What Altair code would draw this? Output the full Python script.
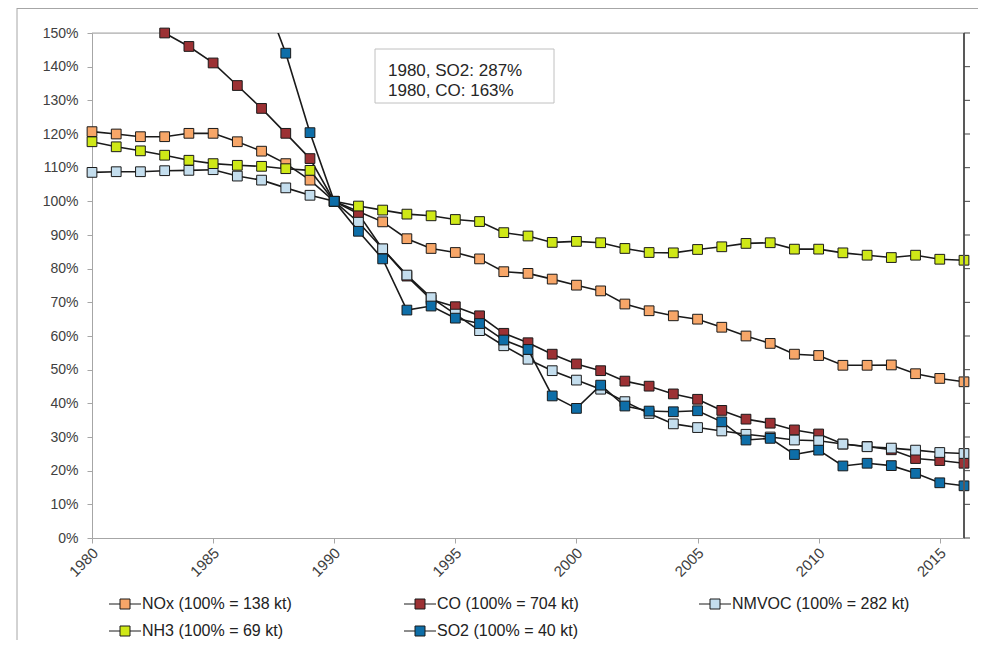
import altair as alt
import pandas as pd

years = list(range(1980, 2017))

nox = [120.7, 120.0, 119.2, 119.2, 120.2, 120.2, 117.7, 114.9, 111.2, 106.3,
       100.0,
       97.0, 93.9, 88.9, 86.0, 84.8, 82.9, 79.1, 78.6, 76.9, 75.1,
       73.4, 69.5, 67.5, 66.0, 65.0, 62.6, 60.0, 57.8, 54.6, 54.2,
       51.3, 51.3, 51.4, 48.8, 47.4, 46.4]
co = [163.0, 159.0, 155.0, 150.0, 146.0, 141.1, 134.4, 127.6, 120.2, 112.7,
      100.0,
      96.3, 85.8, 77.8, 70.8, 68.7, 66.0, 60.8, 58.0, 54.6, 51.7,
      49.7, 46.6, 45.1, 42.8, 41.2, 37.9, 35.3, 34.1, 32.1, 30.9,
      27.9, 27.2, 26.2, 23.6, 23.0, 22.2]
nmvoc = [108.6, 108.8, 108.8, 109.1, 109.2, 109.4, 107.5, 106.3, 104.0, 101.8,
         100.0,
         93.8, 85.9, 78.1, 71.4, 66.5, 61.6, 57.1, 53.1, 49.7, 46.9,
         44.2, 40.5, 37.0, 33.9, 32.8, 31.8, 30.8, 30.0, 29.1, 28.9,
         27.9, 27.1, 26.7, 26.1, 25.4, 25.1]
nh3 = [117.7, 116.2, 115.0, 113.7, 112.2, 111.2, 110.7, 110.4, 109.7, 109.2,
       100.0,
       98.6, 97.4, 96.2, 95.7, 94.6, 94.0, 90.7, 89.7, 87.8, 88.1,
       87.7, 86.0, 84.8, 84.7, 85.7, 86.5, 87.5, 87.7, 85.8, 85.8,
       84.7, 84.0, 83.3, 84.0, 82.8, 82.5]
so2 = [287.0, 268.0, 250.0, 232.0, 214.0, 197.0, 180.0, 163.0, 144.0, 120.4,
       100.0,
       91.1, 82.9, 67.7, 68.9, 65.3, 63.7, 58.8, 56.0, 42.2, 38.5,
       45.4, 39.2, 37.7, 37.5, 37.8, 34.5, 29.1, 29.6, 24.8, 26.1,
       21.4, 22.2, 21.5, 19.2, 16.4, 15.5]

series_names = ["NOx (100% = 138 kt)", "CO (100% = 704 kt)", "NMVOC (100% = 282 kt)",
                "NH3 (100% = 69 kt)", "SO2 (100% = 40 kt)"]
series_colors = ["#F7A668", "#9C3134", "#C4DEEE", "#CFE817", "#0E6EA8"]
series_values = [nox, co, nmvoc, nh3, so2]

y_ticks = list(range(0, 151, 10))
x_ticks = list(range(1980, 2016, 5))
note_lines = ["1980, SO2: 287%", "1980, CO: 163%"]

rows = []
for name, vals in zip(series_names, series_values):
    for yr, v in zip(years, vals):
        rows.append({"year": yr, "value": v, "series": name})
df = pd.DataFrame(rows)

W, H = 872, 505
FONT = "Liberation Sans"
GREY = "#a6a6a6"

X = alt.X("year:Q", scale=alt.Scale(domain=[1980, 2016], nice=False, zero=False),
          axis=alt.Axis(values=x_ticks, format="d", labelAngle=315, labelAlign="right",
                        labelBaseline="middle", tickSize=5, labelPadding=7, labelOffset=3,
                        domainColor=GREY, tickColor=GREY, grid=False, title=None,
                        labelFont=FONT, labelFontSize=15, labelColor="#404040"))
Y = alt.Y("value:Q", scale=alt.Scale(domain=[0, 150], nice=False, zero=True),
          axis=alt.Axis(values=y_ticks, labelExpr="datum.value + '%'", tickSize=5,
                        labelPadding=9, domainColor=GREY, tickColor=GREY, grid=False,
                        title=None, labelFont=FONT, labelFontSize=14, labelColor="#404040"))

symbol_path = "M-3.2,0H-1M1,0H3.2M-1,-1H1V1H-1Z"
color = alt.Color("series:N", sort=series_names,
                  scale=alt.Scale(domain=series_names, range=series_colors),
                  legend=alt.Legend(orient="none", legendX=25, legendY=563, columns=3,
                                    direction="horizontal",
                                    title=None, symbolType=symbol_path, symbolSize=100,
                                    symbolStrokeColor="#1a1a1a", symbolStrokeWidth=1,
                                    symbolOpacity=1,
                                    labelFont=FONT, labelFontSize=16, labelColor="#222222",
                                    labelOffset=9, columnPadding=82, rowPadding=11,
                                    gridAlign="all", padding=0, labelLimit=400))

layers = []
for name in series_names:
    base = alt.Chart(df).transform_filter(alt.datum.series == name)
    line = base.mark_line(color="#1a1a1a", strokeWidth=1.6, clip=True).encode(x=X, y=Y)
    pts = base.transform_filter(alt.datum.value <= 150).mark_square(
        size=95, opacity=1, filled=True, stroke="#1a1a1a", strokeWidth=1
    ).encode(x=X, y=Y, color=color)
    layers += [line, pts]

tick_df = pd.DataFrame({"value": y_ticks})
one = pd.DataFrame({"a": [0]})

top_border = alt.Chart(one).mark_rule(color=GREY, strokeWidth=1).encode(
    x=alt.value(0), x2=alt.value(W), y=alt.value(0))
right_axis = alt.Chart(one).mark_rule(color="#595959", strokeWidth=2).encode(
    x=alt.value(W), y=alt.value(0), y2=alt.value(H))
right_ticks = alt.Chart(tick_df).mark_tick(
    orient="horizontal", color="#444444", size=6, thickness=1, opacity=1
).encode(x=alt.value(W + 3), y=Y)

frame_top = alt.Chart(one).mark_rule(color=GREY, strokeWidth=1).encode(
    x=alt.value(-75), x2=alt.value(W + 40), y=alt.value(-24.5))
frame_left = alt.Chart(one).mark_rule(color=GREY, strokeWidth=1).encode(
    x=alt.value(-75), y=alt.value(-25), y2=alt.value(H + 120))

note_box = alt.Chart(one).mark_rect(fill="white", stroke="#c0c0c0", strokeWidth=1).encode(
    x=alt.value(283), x2=alt.value(462), y=alt.value(16), y2=alt.value(70))
note_text = alt.Chart(pd.DataFrame({"t": ["\n".join(note_lines)]})).mark_text(
    align="left", baseline="middle", lineBreak="\n", lineHeight=20,
    font=FONT, fontSize=17, color="#262626"
).encode(text="t:N", x=alt.value(296), y=alt.value(38))

chart = alt.layer(
    frame_top, frame_left, top_border, *layers, right_axis, right_ticks, note_box, note_text
).properties(
    width=W, height=H,
    padding={"left": 84, "top": 25, "right": 14, "bottom": 102},
    autosize=alt.AutoSizeParams(type="none"),
).configure_view(stroke=None).configure(font=FONT, background="white")

chart.save("out.html", embed_options={"renderer": "svg", "actions": False})
